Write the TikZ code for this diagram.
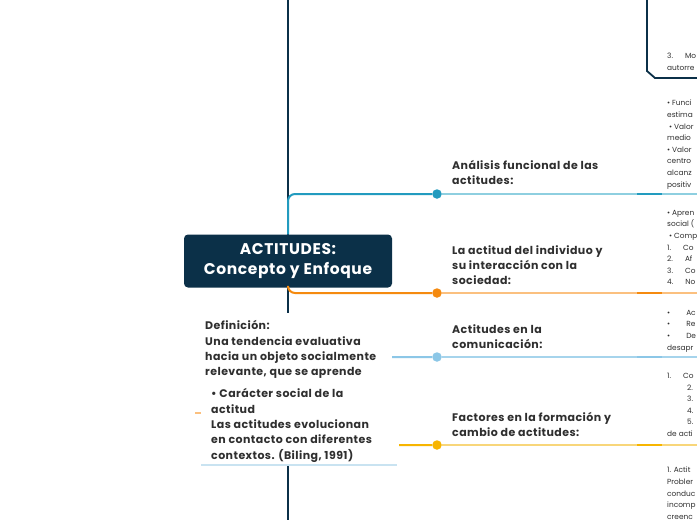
\documentclass[tikz,border=0pt]{standalone}
\usepackage{fontspec}
\setmainfont{Poppins}
\newfontfamily\mapfont{Poppins}[LetterSpace=4]
\usetikzlibrary{positioning}

\definecolor{navy}{HTML}{0B3048}
\definecolor{tealdk}{HTML}{229BBF}
\definecolor{teallt}{HTML}{8ECFE0}
\definecolor{orgdk}{HTML}{F58A0F}
\definecolor{orglt}{HTML}{FBC07F}
\definecolor{bluedk}{HTML}{8CC7E7}
\definecolor{bluelt}{HTML}{A6D4EC}
\definecolor{ambdk}{HTML}{F7B500}
\definecolor{amblt}{HTML}{F8D67A}
\definecolor{pale}{HTML}{C9E3F1}
\definecolor{ink}{HTML}{2F2F2F}

\begin{document}
\begin{tikzpicture}[x=1pt,y=-1pt,
    spine/.style={navy,line width=2.2pt},
    branch/.style={line width=2pt,rounded corners=7pt},
    tail/.style={line width=1.6pt},
    dot/.style={circle,fill=#1,inner sep=0pt,minimum size=9.5pt},
    title/.style={fill=navy,text=white,rounded corners=4pt,minimum width=208pt,minimum height=53pt,
        align=center,font=\mapfont\bfseries\fontsize{15.5}{20.5}\selectfont},
    lbl/.style={anchor=south west,inner sep=0pt,align=left,text=ink,font=\mapfont\bfseries\fontsize{11}{15}\selectfont},
    defn/.style={anchor=north west,inner sep=0pt,align=left,text=ink,font=\mapfont\bfseries\fontsize{11}{15.3}\selectfont},
    note/.style={anchor=north west,inner sep=0pt,align=left,text=ink,font=\fontsize{7.4}{11.6}\selectfont}]
  \useasboundingbox[fill=white] (0,0) rectangle (697,520);
  \clip (0,0) rectangle (697,520);
  \coordinate (top) at (288,0);
  \coordinate (bot) at (288,520);
  \coordinate (cx) at (637,0);
  \coordinate (cy) at (662,0);
  \coordinate (edge) at (697,0);

  % main spine and central topic
  \draw[spine] (top) -- (bot);
  \node[title] (title) at (288,261) {ACTITUDES:\\Concepto y Enfoque};

  % branch dots
  \node[dot=tealdk] (d1) at (437,194) {};
  \node[dot=orgdk] (d2) at (437,293) {};
  \node[dot=bluedk] (d3) at (437,357) {};
  \node[dot=ambdk] (d4) at (437,445) {};

  % branches
  \coordinate (s3) at (288,330);
  \coordinate (s4) at (288,420);
  \draw[branch,tealdk] (title.north) |- (d1);
  \draw[branch,orgdk] (title.south) |- (d2);
  \draw[branch,bluedk] (s3) |- (d3);
  \draw[branch,ambdk] (s4) |- (d4);
  \draw[tail,teallt] (d1) -- (d1 -| edge);
  \draw[tail,orglt] (d2) -- (d2 -| edge);
  \draw[tail,bluelt] (d3) -- (d3 -| edge);
  \draw[tail,amblt] (d4) -- (d4 -| edge);
  \foreach \d/\c in {d1/tealdk, d2/orgdk, d3/bluedk, d4/ambdk}
      \draw[\c,line width=2pt] (\d -| cx) -- (\d -| cy);

  % branch labels
  \node[lbl] (l1) at (452,185) {Análisis funcional de las\\actitudes:};
  \node[lbl] (l2) at (452,284.5) {La actitud del individuo y\\su interacción con la\\sociedad:};
  \node[lbl] (l3) at (452,348.5) {Actitudes en la\\comunicación:};
  \node[lbl] (l4) at (452,436.5) {Factores en la formación y\\cambio de actitudes:};

  % definition blocks
  \fill[white] (196,313) rectangle (392,388);
  \node[defn] (def) at (205,320.5) {Definición:\\Una tendencia evaluativa\\hacia un objeto socialmente\\relevante, que se aprende};
  \fill[white] (199,386) rectangle (399,464);
  \node[defn] (soc) at (211,388.5) {• Carácter social de la\\actitud\\Las actitudes evolucionan\\en contacto con diferentes\\contextos. (Biling, 1991)};
  \coordinate (u1) at (201,465);
  \coordinate (u2) at (397,465);
  \draw[tail,pale] (u1) -- (u2);
  \coordinate (m1) at (195,413);
  \coordinate (m2) at (201,413);
  \draw[tail,orglt] (m1) -- (m2);

  % right hand notes (cut by the frame)
  \coordinate (k0) at (647,0);
  \coordinate (k1) at (647,71);
  \coordinate (k2) at (655,78);
  \draw[navy,line width=1.8pt] (k0) -- (k1) -- (k2) -- (k2 -| edge);
  \node[note] (n0) at (667,53) {3.\hspace{12pt}Mo\\autorre};
  \node[note] (n1) at (667,100) {• Funci\\estima\\\ • Valor\\medio\\• Valor\\centro\\alcanz\\positiv};
  \node[note] (n2) at (667,210) {• Apren\\social (\\\ • Comp\\1.\hspace{12pt}Co\\2.\hspace{12pt}Af\\3.\hspace{12pt}Co\\4.\hspace{12pt}No};
  \node[note] (n3) at (667,310) {•\hspace{16pt}Ac\\•\hspace{16pt}Re\\•\hspace{16pt}De\\desapr};
  \node[note] (n4) at (667,373) {1.\hspace{12pt}Co\\\hspace{20pt}2.\\\hspace{20pt}3.\\\hspace{20pt}4.\\\hspace{20pt}5.\\de acti};
  \node[note] (n5) at (667,467) {1. Actit\\Probler\\conduc\\incomp\\creenc};
\end{tikzpicture}
\end{document}
